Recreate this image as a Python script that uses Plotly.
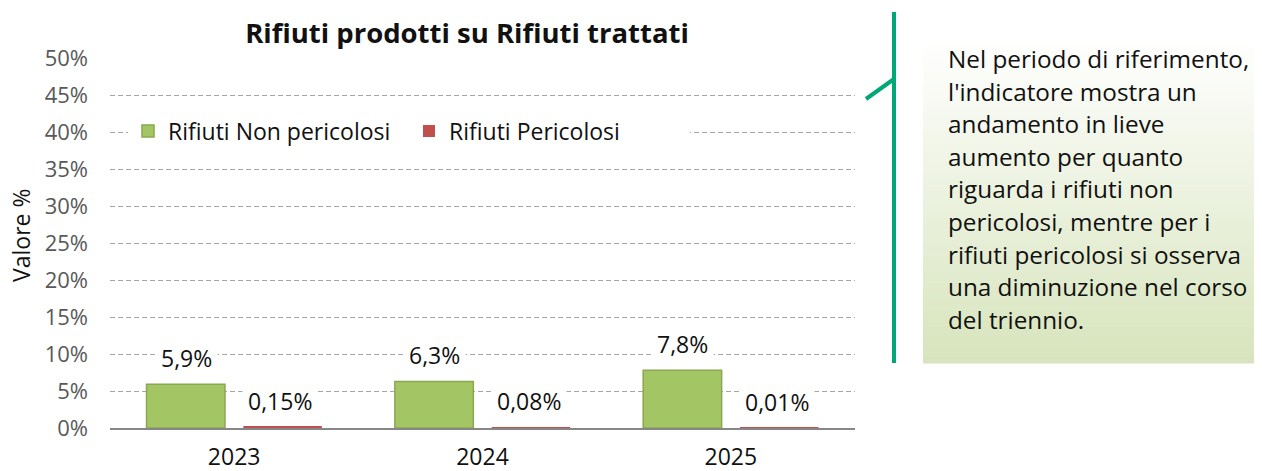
import plotly.graph_objects as go

# la pagina html ha un margine di 8px: la figura e' spostata di 8px a destra e in basso
OFF = 8
W, H = 1262 - OFF, 471 - OFF

anni = ["2023", "2024", "2025"]
non_pericolosi = [5.9, 6.3, 7.8]
pericolosi = [0.15, 0.08, 0.01]
y_ticks = [0, 5, 10, 15, 20, 25, 30, 35, 40, 45, 50]

testo = [
    "Nel periodo di riferimento,",
    "l'indicatore mostra un",
    "andamento in lieve",
    "aumento per quanto",
    "riguarda i rifiuti non",
    "pericolosi, mentre per i",
    "rifiuti pericolosi si osserva",
    "una diminuzione nel corso",
    "del triennio.",
]

FONT = "Open Sans"


def px(x):
    return (x - OFF) / W


def py(y):
    return 1 - (y - OFF) / H


fig = go.Figure()
fig.add_trace(go.Bar(
    x=anni, y=non_pericolosi, name="Rifiuti Non pericolosi",
    marker=dict(color="#a4c564", line=dict(color="#8aa84f", width=1.5)),
))
fig.add_trace(go.Bar(
    x=anni, y=pericolosi, name="Rifiuti Pericolosi",
    marker=dict(color="#c0504d", line=dict(width=0)),
))

annotations = []
for i, v in enumerate(non_pericolosi):
    annotations.append(dict(
        x=i, y=v, xref="x", yref="y", text=f"{v:.1f}".replace(".", ",") + "%",
        showarrow=False, xshift=-48, yshift=26, bgcolor="white", borderpad=5,
        font=dict(family=FONT, size=23, color="#111111"),
    ))
for i, v in enumerate(pericolosi):
    annotations.append(dict(
        x=i, y=v, xref="x", yref="y", text=f"{v:.2f}".replace(".", ",") + "%",
        showarrow=False, xshift=46, yshift=26, bgcolor="white", borderpad=5,
        font=dict(family=FONT, size=23, color="#111111"),
    ))

# titolo asse y
annotations.append(dict(
    x=px(21), y=py(236), xref="paper", yref="paper", text="Valore %",
    xanchor="center", yanchor="middle",
    textangle=-90, showarrow=False, font=dict(family=FONT, size=23, color="#111111"),
))

# testo nel riquadro a destra
for i, riga in enumerate(testo):
    annotations.append(dict(
        x=px(946), y=py(59 + i * 32.5), xref="paper", yref="paper", text=riga,
        xanchor="left", yanchor="middle", showarrow=False,
        font=dict(family=FONT, size=24.3, color="#111111"),
    ))

shapes = []
# riquadro con sfumatura bianco -> verde chiaro
top, bottom, n = 40, 363, 60
c0 = (255, 255, 255)
c1 = (215, 228, 188)
for i in range(n):
    t = (i + 0.5) / n
    c = tuple(round(c0[k] + (c1[k] - c0[k]) * t) for k in range(3))
    y0 = top + (bottom - top) * i / n
    y1 = top + (bottom - top) * (i + 1) / n + 0.5
    shapes.append(dict(
        type="rect", xref="paper", yref="paper", layer="below",
        x0=px(923), x1=px(1262), y0=py(y1), y1=py(y0),
        fillcolor=f"rgb{c}", line=dict(width=0),
    ))
# linea di richiamo verde
shapes.append(dict(type="line", xref="paper", yref="paper",
                   x0=px(894), x1=px(894), y0=py(12), y1=py(363),
                   line=dict(color="#00a878", width=4)))
shapes.append(dict(type="line", xref="paper", yref="paper",
                   x0=px(866), x1=px(894), y0=py(99), y1=py(79),
                   line=dict(color="#00a878", width=4)))

fig.update_layout(
    width=W, height=H,
    margin=dict(l=0, r=0, t=0, b=0),
    paper_bgcolor="white", plot_bgcolor="white",
    barmode="group", bargap=0.22, bargroupgap=0.19,
    title=dict(text="<b>Rifiuti prodotti su Rifiuti trattati</b>",
               x=px(467), xanchor="center", y=py(33), yanchor="middle",
               xref="paper", yref="paper",
               font=dict(family=FONT, size=27.5, color="#111111")),
    legend=dict(orientation="h", x=px(128), xanchor="left", y=py(131), yanchor="middle",
                bgcolor="white", font=dict(family=FONT, size=23, color="#111111"),
                traceorder="normal", entrywidth=236),
    xaxis=dict(type="category", range=[-0.5, 2.5], domain=[px(110), px(855)],
               showgrid=False, showline=True,
               linecolor="#878787", linewidth=2, ticks="", ticklabelstandoff=7,
               tickfont=dict(family=FONT, size=23, color="#111111"), automargin=False),
    yaxis=dict(domain=[py(428), py(58)], range=[0, 50], tickvals=y_ticks,
               ticktext=[f"{v}%" for v in y_ticks],
               showgrid=True, gridcolor="#a6a6a6", gridwidth=1, griddash="5px,3px",
               zeroline=False, showline=False, ticks="", ticklabelstandoff=21,
               tickfont=dict(family=FONT, size=22, color="#595959"), automargin=False),
    annotations=annotations,
    shapes=shapes,
    showlegend=True,
)

fig.write_html("out.html")
